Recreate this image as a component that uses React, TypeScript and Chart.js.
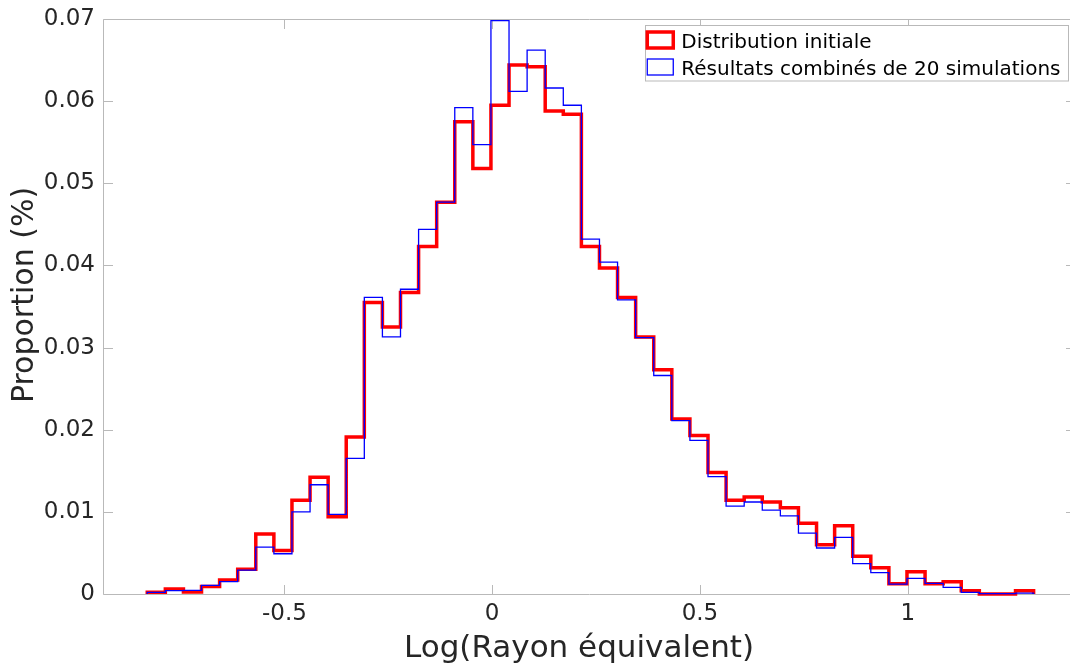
import React, { useEffect, useRef } from 'react';
import { Chart, registerables } from 'chart.js';

Chart.register(...registerables);

// ---- data ----
const BIN_START = -0.83;
const BIN_WIDTH = 0.04353;

const INITIAL_DIST = [
  0.0002, 0.0006, 0.00025, 0.0009, 0.0017, 0.003, 0.0073, 0.0053, 0.0114, 0.0142,
  0.0094, 0.0191, 0.0355, 0.0325, 0.0367, 0.0423, 0.0477, 0.0575, 0.0518, 0.0595,
  0.0644, 0.0642, 0.0588, 0.0584, 0.0423, 0.0397, 0.0361, 0.0313, 0.0273, 0.0213,
  0.0193, 0.0148, 0.0114, 0.0118, 0.0112, 0.0105, 0.0086, 0.006, 0.0083, 0.0046,
  0.0032, 0.00125, 0.0027, 0.00125, 0.0015, 0.0004, 0.0, 0.0, 0.0004,
];

const COMBINED_SIMS = [
  0.0002, 0.0004, 0.00045, 0.00105, 0.0015, 0.0029, 0.0057, 0.0049, 0.01, 0.0133,
  0.0097, 0.0165, 0.0361, 0.0313, 0.0371, 0.0444, 0.0477, 0.0592, 0.0547, 0.0698,
  0.0612, 0.0662, 0.0616, 0.0595, 0.0432, 0.0404, 0.0358, 0.0312, 0.0266, 0.0211,
  0.0187, 0.0143, 0.0107, 0.0112, 0.0102, 0.0095, 0.0074, 0.0056, 0.0069, 0.0037,
  0.0026, 0.0012, 0.0019, 0.0013, 0.0008, 0.0002, 0.00005, 0.00005, 0.0001,
];

const SERIES_LABELS = ['Distribution initiale', 'Résultats combinés de 20 simulations'];
const X_TICKS = [-0.5, 0, 0.5, 1];
const Y_TICKS = [0, 0.01, 0.02, 0.03, 0.04, 0.05, 0.06, 0.07];
const X_MIN = -0.9365;
const X_MAX = 1.405;
const Y_MIN = 0;
const Y_MAX = 0.07;
const X_TITLE = 'Log(Rayon équivalent)';
const Y_TITLE = 'Proportion (%)';

// ---- styles ----
const FONT = '"DejaVu Sans", sans-serif';
const AXIS_COLOR = '#b9b9b9';
const TEXT_COLOR = '#262626';
const TICK_LEN = 9.5;
const CANVAS_W = 1080;
const CANVAS_H = 669;

// stairs outline: baseline -> each bin held from its left edge to its right edge -> baseline
function stairs(values: number[]) {
  const pts: { x: number; y: number }[] = [{ x: BIN_START, y: 0 }];
  values.forEach((v, k) => pts.push({ x: BIN_START + k * BIN_WIDTH, y: v }));
  pts.push({ x: BIN_START + values.length * BIN_WIDTH, y: 0 });
  return pts;
}

const framePlugin = {
  id: 'matlabFrame',
  beforeDatasetsDraw(chart: any) {
    const { ctx, chartArea: a, scales } = chart;
    ctx.save();
    ctx.strokeStyle = AXIS_COLOR;
    ctx.lineWidth = 1;
    const L = Math.round(a.left) + 0.5;
    const R = Math.round(a.right) - 0.5;
    const T = Math.round(a.top) + 0.5;
    const B = Math.round(a.bottom) + 0.5;
    ctx.beginPath();
    ctx.moveTo(L, T);
    ctx.lineTo(R, T);
    ctx.lineTo(R, B);
    ctx.lineTo(L, B);
    ctx.closePath();
    ctx.stroke();
    ctx.beginPath();
    X_TICKS.forEach((v) => {
      const px = Math.round(scales.x.getPixelForValue(v)) + 0.5;
      ctx.moveTo(px, B);
      ctx.lineTo(px, B - TICK_LEN);
      ctx.moveTo(px, T);
      ctx.lineTo(px, T + TICK_LEN);
    });
    Y_TICKS.forEach((v) => {
      const py = Math.round(scales.y.getPixelForValue(v)) + 0.5;
      ctx.moveTo(L, py);
      ctx.lineTo(L + TICK_LEN, py);
      ctx.moveTo(R, py);
      ctx.lineTo(R - TICK_LEN, py);
    });
    ctx.stroke();
    ctx.restore();
  },
};

const titlesPlugin = {
  id: 'axisTitles',
  afterDraw(chart: any) {
    const { ctx } = chart;
    ctx.save();
    ctx.fillStyle = TEXT_COLOR;
    ctx.font = `31px ${FONT}`;
    ctx.textAlign = 'center';
    ctx.textBaseline = 'alphabetic';
    ctx.fillText(X_TITLE, 579, 657);
    ctx.translate(25, 295);
    ctx.rotate(-Math.PI / 2);
    ctx.font = `30px ${FONT}`;
    ctx.textBaseline = 'middle';
    ctx.fillText(Y_TITLE, 0, 0);
    ctx.restore();
  },
};

const legendPlugin = {
  id: 'boxLegend',
  afterDraw(chart: any) {
    const { ctx, chartArea: a } = chart;
    const ds = chart.data.datasets;
    ctx.save();
    ctx.font = `20px ${FONT}`;
    const widths = ds.map((d: any) => ctx.measureText(d.label).width);
    const maxW = Math.max(...widths);
    const boxRight = Math.round(a.right - 8) + 0.5;
    const boxTop = Math.round(a.top + 6) + 0.5;
    const textX = boxRight - 8 - maxW;
    const patchL = textX - 34;
    const boxLeft = Math.round(patchL - 2) + 0.5;
    const rowH = 27;
    const boxBottom = boxTop + 2 * rowH + 1.5;
    ctx.fillStyle = '#ffffff';
    ctx.fillRect(boxLeft, boxTop, boxRight - boxLeft, boxBottom - boxTop);
    ctx.strokeStyle = AXIS_COLOR;
    ctx.lineWidth = 1;
    ctx.strokeRect(boxLeft, boxTop, boxRight - boxLeft, boxBottom - boxTop);
    ds.forEach((d: any, i: number) => {
      const cy = boxTop + 14.5 + i * rowH;
      ctx.strokeStyle = d.borderColor;
      ctx.lineWidth = d.borderWidth;
      ctx.strokeRect(patchL, cy - 8, 26, 16);
      ctx.fillStyle = '#000000';
      ctx.textAlign = 'left';
      ctx.textBaseline = 'alphabetic';
      ctx.fillText(d.label, textX, cy + 7.5);
    });
    ctx.restore();
  },
};

export default function App() {
  const ref = useRef<HTMLCanvasElement | null>(null);

  useEffect(() => {
    if (!ref.current) return;
    const chart = new Chart(ref.current, {
      type: 'scatter',
      data: {
        datasets: [
          {
            label: SERIES_LABELS[0],
            data: stairs(INITIAL_DIST),
            showLine: true,
            stepped: 'before',
            borderColor: '#ff0000',
            backgroundColor: '#ff0000',
            borderWidth: 3.5,
            pointRadius: 0,
            pointHoverRadius: 0,
            fill: false,
            clip: 6,
            order: 2,
          } as any,
          {
            label: SERIES_LABELS[1],
            data: stairs(COMBINED_SIMS),
            showLine: true,
            stepped: 'before',
            borderColor: '#0000ff',
            backgroundColor: '#0000ff',
            borderWidth: 1.3,
            pointRadius: 0,
            pointHoverRadius: 0,
            fill: false,
            clip: 6,
            order: 1,
          } as any,
        ],
      },
      options: {
        animation: false,
        responsive: false,
        devicePixelRatio: 1,
        layout: { padding: { left: 0, top: 19, right: CANVAS_W - 1076, bottom: 0 } },
        plugins: {
          legend: { display: false },
          tooltip: { enabled: false },
          title: { display: false },
        },
        scales: {
          x: {
            type: 'linear',
            min: X_MIN,
            max: X_MAX,
            grid: { display: false, drawTicks: false },
            border: { display: false },
            afterBuildTicks: (s: any) => {
              s.ticks = X_TICKS.map((value) => ({ value }));
            },
            afterFit: (s: any) => {
              s.height = CANVAS_H - 594;
            },
            ticks: {
              color: TEXT_COLOR,
              font: { family: FONT, size: 23 },
              padding: 6,
              autoSkip: false,
              maxRotation: 0,
              callback: (v: any) => String(v),
            },
          },
          y: {
            type: 'linear',
            min: Y_MIN,
            max: Y_MAX,
            grid: { display: false, drawTicks: true, tickLength: 8 },
            border: { display: false },
            afterBuildTicks: (s: any) => {
              s.ticks = Y_TICKS.map((value) => ({ value }));
            },
            afterFit: (s: any) => {
              s.width = 103;
            },
            ticks: {
              color: TEXT_COLOR,
              font: { family: FONT, size: 23 },
              padding: 0,
              autoSkip: false,
              callback: (v: any) => (Number(v) === 0 ? '0' : Number(v).toFixed(2)),
            },
          },
        },
      },
      plugins: [framePlugin, titlesPlugin, legendPlugin],
    });
    return () => chart.destroy();
  }, []);

  return (
    <div
      style={{
        position: 'fixed',
        left: 0,
        top: 0,
        width: 1070,
        height: CANVAS_H,
        overflow: 'hidden',
        background: '#ffffff',
      }}
    >
      <canvas ref={ref} width={CANVAS_W} height={CANVAS_H} style={{ display: 'block', width: CANVAS_W, height: CANVAS_H }} />
    </div>
  );
}
